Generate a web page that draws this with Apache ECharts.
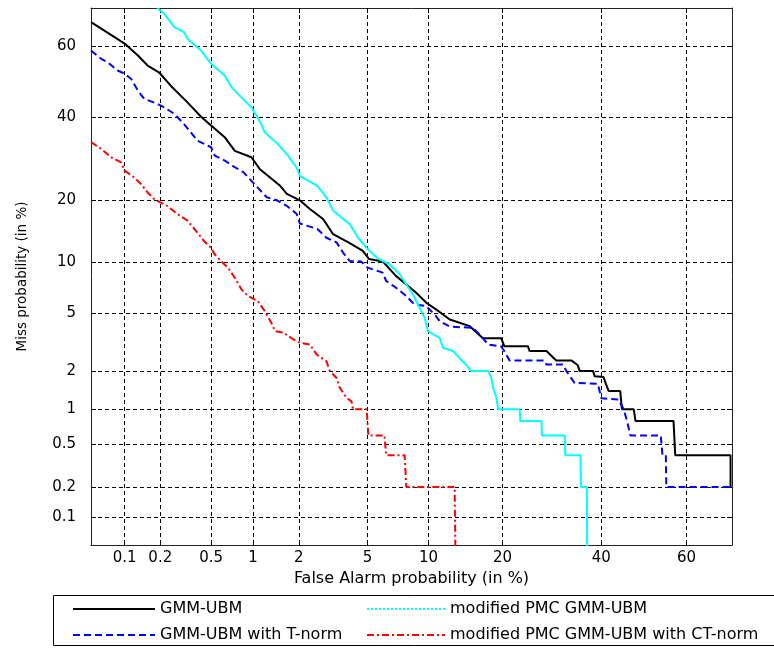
<!DOCTYPE html>
<html><head><meta charset="utf-8">
<script src="https://cdn.jsdelivr.net/npm/echarts@6/dist/echarts.min.js"></script>
<style>html,body{margin:0;padding:0;background:#fff}#c{width:774px;height:648px}</style>
</head><body><div id="c"></div>
<script>
// Tick labels (percent)
const tickValues = [0.1, 0.2, 0.5, 1, 2, 5, 10, 20, 40, 60];
const axisMinPct = 0.05, axisMaxPct = 70;
const seriesNames = ['GMM-UBM', 'GMM-UBM with T-norm', 'modified PMC GMM-UBM', 'modified PMC GMM-UBM with CT-norm'];

// GMM-UBM
const gmmFA = [0.05,0.062,0.1,0.13,0.157,0.195,0.243,0.33,0.42,0.5,0.63,0.745,0.975,1.11,1.52,1.68,2.03,2.34,2.81,3.22,4.0,4.72,5.1,6.0,7.0,7.87,8.77,9.77,10.8,12.4,15.0,16.9,19.8,20.3,24.5,24.8,28.1,30.1,33.3,34.7,35.1,38.1,38.5,40.5,41.1,41.7,44.4,44.8,47.6,48.0,57.0,57.4,69.7,69.7];
const gmmMiss = [66.4,64.7,60.7,57.4,54.6,52.7,48.9,44.2,40.2,37.8,34.7,31.2,29.6,26.8,23.0,21.3,20.0,18.3,16.5,13.95,12.6,11.5,10.4,10.1,8.4,7.5,6.7,5.83,5.3,4.57,4.13,3.42,3.42,3.02,3.02,2.79,2.79,2.39,2.39,2.2,2.0,2.0,1.82,1.8,1.58,1.40,1.40,1.0,1.0,0.8,0.8,0.4,0.4,0.2];

// GMM-UBM with T-norm
const tnormFA = [0.05,0.062,0.071,0.087,0.1,0.114,0.13,0.147,0.189,0.215,0.26,0.31,0.394,0.5,0.533,0.63,0.745,0.86,1.0,1.24,1.45,1.68,1.94,2.03,2.6,2.94,3.37,3.67,4.0,4.62,5.0,6.0,6.25,7.0,7.87,8.58,9.77,10.8,11.2,12.4,15.4,16.4,17.7,19.8,20.3,21.2,27.7,28.1,31.5,32.2,34.0,39.2,40.0,44.0,45.2,46.0,46.8,54.0,54.4,55.2,55.3,69.7];
const tnormMiss = [58.8,56.5,55.5,53.2,52.3,50.8,47.5,45.2,43.8,42.8,41.0,38.2,33.8,32.1,30.0,28.8,27.2,26.0,23.7,20.6,20.0,18.9,17.4,15.7,14.8,13.4,12.7,11.25,10.15,10.1,9.34,8.76,7.86,7.18,6.4,5.7,5.56,4.8,4.46,4.1,4.03,3.64,3.1,3.0,2.79,2.39,2.39,2.23,2.23,2.0,1.62,1.6,1.23,1.2,1.0,0.8,0.6,0.6,0.4,0.4,0.2,0.2];

// modified PMC GMM-UBM
const pmcFA = [0.189,0.215,0.26,0.31,0.33,0.42,0.5,0.63,0.705,0.83,0.975,1.14,1.2,1.47,1.71,1.93,2.03,2.6,2.94,3.22,4.0,4.45,4.95,5.65,6.5,7.3,7.87,8.46,9.1,9.6,9.93,11.2,11.6,12.8,13.6,14.5,15.2,17.7,18.2,18.5,19.0,19.3,23.0,23.1,27.1,27.2,31.9,32.0,35.3,35.4,36.7,36.8];
const pmcMiss = [70,68.6,65.1,63.8,62.0,58.8,55.1,51.8,48.5,45.6,42.8,38.2,36.0,32.9,30.0,27.2,25.2,23.0,20.6,18.0,15.6,13.4,11.9,10.5,9.75,8.6,7.5,6.56,5.42,4.68,3.83,3.45,2.94,2.79,2.49,2.23,2.0,2.0,1.77,1.48,1.24,1.0,1.0,0.8,0.8,0.6,0.6,0.4,0.4,0.2,0.2,0.04];

// modified PMC GMM-UBM with CT-norm
const ctFA = [0.05,0.062,0.076,0.093,0.1,0.121,0.138,0.157,0.179,0.2,0.228,0.274,0.33,0.394,0.442,0.5,0.533,0.595,0.666,0.745,0.83,0.925,1.08,1.2,1.33,1.41,1.6,1.85,2.03,2.34,2.57,2.94,3.08,3.37,3.52,3.84,4.09,4.17,4.95,5.05,6.13,6.25,7.72,7.87,13.0,13.1];
const ctMiss = [33.4,31.7,29.6,28.35,26.4,24.85,23.4,21.6,20.2,19.6,18.9,17.4,16.2,14.2,12.9,11.9,11.0,10.1,9.34,8.2,7.02,6.4,5.97,5.17,4.35,3.83,3.73,3.36,3.19,3.1,2.64,2.36,2.0,1.77,1.48,1.24,1.16,1.0,1.0,0.6,0.6,0.4,0.4,0.2,0.2,0.04];

// Normal deviate (probit) transform for DET axes
function probit(p){
  const a=[-3.969683028665376e+01,2.209460984245205e+02,-2.759285104469687e+02,1.383577518672690e+02,-3.066479806614716e+01,2.506628277459239e+00];
  const b=[-5.447609879822406e+01,1.615858368580409e+02,-1.556989798598866e+02,6.680131188771972e+01,-1.328068155288572e+01];
  const c=[-7.784894002430293e-03,-3.223964580411365e-01,-2.400758277161838e+00,-2.549671207184829e+00,4.374664141464968e+00,2.938163982698783e+00];
  const d=[7.784695709041462e-03,3.224671290700398e-01,2.445134137142996e+00,3.754408661907416e+00];
  const pl=0.02425, ph=1-pl; let q,r;
  if(p<pl){q=Math.sqrt(-2*Math.log(p));return (((((c[0]*q+c[1])*q+c[2])*q+c[3])*q+c[4])*q+c[5])/((((d[0]*q+d[1])*q+d[2])*q+d[3])*q+1);}
  if(p<=ph){q=p-0.5;r=q*q;return (((((a[0]*r+a[1])*r+a[2])*r+a[3])*r+a[4])*r+a[5])*q/(((((b[0]*r+b[1])*r+b[2])*r+b[3])*r+b[4])*r+1);}
  q=Math.sqrt(-2*Math.log(1-p));return -(((((c[0]*q+c[1])*q+c[2])*q+c[3])*q+c[4])*q+c[5])/((((d[0]*q+d[1])*q+d[2])*q+d[3])*q+1);
}
const pz = v => probit(v/100);
const tickZ = tickValues.map(pz);
const fmt = v => { for (let i=0;i<tickZ.length;i++) if (Math.abs(tickZ[i]-v)<1e-6) return String(tickValues[i]); return ''; };
const pairs = (fa, miss) => fa.map((v,i)=>[pz(v), pz(miss[i])]);

const FONT = 'DejaVu Sans';
const gridLine = {show:true, lineStyle:{color:'#000', type:[4,3], width:1}};
function mainAxis(pos, name, extra){
  return Object.assign({
    type:'value', position:pos, min:pz(axisMinPct), max:pz(axisMaxPct),
    axisLine:{show:true, onZero:false, lineStyle:{color:'#222', width:1}},
    axisTick:{show:true, inside:true, length:5, customValues:tickZ, lineStyle:{color:'#000'}},
    axisLabel:{show:true, customValues:tickZ, formatter:fmt, color:'#000', fontFamily:FONT, fontSize:15},
    splitLine:gridLine,
    name:name, nameLocation:'middle',
    nameTextStyle:{color:'#000', fontFamily:FONT}
  }, extra||{});
}
function mirrorAxis(pos){
  return {
    type:'value', position:pos, min:pz(axisMinPct), max:pz(axisMaxPct),
    axisLine:{show:true, onZero:false, lineStyle:{color:'#222', width:1}},
    axisTick:{show:true, inside:true, length:5, customValues:tickZ, lineStyle:{color:'#000'}},
    axisLabel:{show:false}, splitLine:{show:false}
  };
}
const legendBase = {orient:'vertical', top:601, padding:0, itemHeight:14, itemGap:10,
  itemStyle:{opacity:0}, textStyle:{color:'#000', fontFamily:FONT, fontSize:16}};

const chart = echarts.init(document.getElementById('c'), null, {renderer:'canvas'});
chart.setOption({
  animation:false,
  backgroundColor:'#fff',
  grid:{left:91, right:42, top:8, bottom:103, containLabel:false},
  xAxis:[
    mainAxis('bottom','False Alarm probability (in %)',{nameGap:24, nameTextStyle:{color:'#000',fontFamily:FONT,fontSize:16}, axisLabel:{show:true, customValues:tickZ, formatter:fmt, color:'#000', fontFamily:FONT, fontSize:15, margin:6}}),
    mirrorAxis('top')
  ],
  yAxis:[
    mainAxis('left','Miss probability (in %)',{nameGap:62, nameTextStyle:{color:'#000',fontFamily:FONT,fontSize:13.5}, axisLabel:{show:true, customValues:tickZ, formatter:fmt, color:'#000', fontFamily:FONT, fontSize:15, margin:15}}),
    mirrorAxis('right')
  ],
  legend:[
    Object.assign({}, legendBase, {left:72, itemWidth:82, data:[{name:seriesNames[0]},{name:seriesNames[1]}]}),
    Object.assign({}, legendBase, {left:366, itemWidth:78, data:[{name:seriesNames[2], lineStyle:{type:[2,2]}},{name:seriesNames[3]}]})
  ],
  graphic:[{type:'rect', shape:{x:53.5, y:595.5, width:740, height:50}, style:{fill:'none', stroke:'#000', lineWidth:1}, silent:true}],
  series:[
    {name:seriesNames[0], type:'line', symbol:'none', data:pairs(gmmFA,gmmMiss), lineStyle:{color:'#000000', width:2}, itemStyle:{color:'#000000'}},
    {name:seriesNames[1], type:'line', symbol:'none', data:pairs(tnormFA,tnormMiss), lineStyle:{color:'#0000ff', width:2, type:[7,4]}, itemStyle:{color:'#0000ff'}},
    {name:seriesNames[2], type:'line', symbol:'none', data:pairs(pmcFA,pmcMiss), lineStyle:{color:'#00ffff', width:2}, itemStyle:{color:'#00ffff'}},
    {name:seriesNames[3], type:'line', symbol:'none', data:pairs(ctFA,ctMiss), lineStyle:{color:'#ff0000', width:2, type:[7,3,2,3]}, itemStyle:{color:'#ff0000'}}
  ]
});
</script></body></html>
